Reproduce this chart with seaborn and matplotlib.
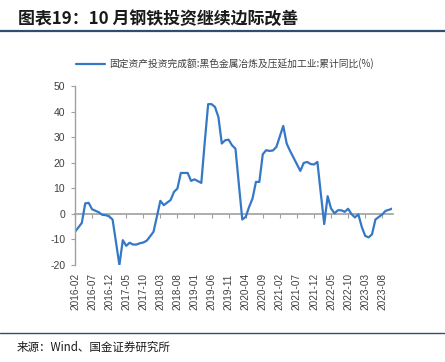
import matplotlib
matplotlib.use("Agg")
import matplotlib.pyplot as plt
import seaborn as sns
import pandas as pd
import numpy as np

# ---- data ----
months = pd.period_range("2016-02", periods=94, freq="M").strftime("%Y-%m").tolist()
values = [
    -7.0, -5.3, -3.5, 4.1, 4.3, 1.8, 1.2, 0.6, -0.4, -0.5,
    -1.0, -2.2, -11.0, -20.0, -10.3, -12.5, -11.3, -12.0, -12.0, -11.5,
    -11.2, -10.5, -8.8, -7.0, -1.0, 5.1, 3.4, 4.4, 5.4, 8.6,
    9.9, 16.0, 16.0, 16.0, 12.9, 13.5, 12.8, 12.1, 28.0, 42.9,
    42.9, 41.8, 37.9, 27.5, 28.8, 29.0, 26.8, 25.5, 11.5, -2.2,
    -1.2, 2.7, 6.0, 12.5, 12.5, 23.3, 24.9, 24.6, 24.8, 26.2,
    30.3, 34.4, 27.5, 24.6, 22.0, 19.4, 16.8, 19.9, 20.3, 19.5,
    19.3, 20.3, 8.0, -4.0, 6.9, 2.1, 0.2, 1.4, 1.4, 0.8,
    2.0, -0.1, -1.4, -0.2, -5.1, -8.6, -9.2, -8.0, -2.2, -1.2,
    -0.2, 1.2, 1.6, 2.1,
]
series_name = "固定资产投资完成额:黑色金属冶炼及压延加工业:累计同比(%)"
title_text = "图表19：10 月钢铁投资继续边际改善"
source_text = "来源：Wind、国金证券研究所"
yticks = [-20, -10, 0, 10, 20, 30, 40, 50]

df = pd.DataFrame({"idx": np.arange(len(values)), "month": months, "value": values})

sns.set_theme(style="white")
plt.rcParams["font.family"] = ["Liberation Sans", "Noto Sans CJK SC", "DejaVu Sans"]

fig = plt.figure(figsize=(4.45, 3.62), dpi=100)
ax = fig.add_axes([75 / 445, 1 - 265 / 362, (392.5 - 75) / 445, (265 - 86) / 362])

sns.lineplot(data=df, x="idx", y="value", ax=ax, color="#3578C6", linewidth=1.6,
             label=series_name, legend=False)

ax.set_xlim(0, len(values) - 1)
ax.set_ylim(-20, 50)
ax.set_yticks(yticks)
ax.set_yticklabels([str(v) for v in yticks])
ax.set_xlabel("")
ax.set_ylabel("")

tick_pos = list(range(0, len(values), 5))
ax.set_xticks(tick_pos)
ax.set_xticklabels([months[i] for i in tick_pos], rotation=90)

for s in ["top", "right", "bottom"]:
    ax.spines[s].set_visible(False)
ax.spines["left"].set_color("#A0A0A0")
ax.spines["left"].set_linewidth(1.0)

ax.tick_params(axis="y", which="both", left=True, length=3, width=0.8, color="#A0A0A0",
               labelsize=7.5, labelcolor="#404040", pad=4)
ax.tick_params(axis="x", which="both", bottom=False, length=0, labelsize=7.2,
               labelcolor="#404040", pad=6)

# zero axis with tick marks
sec = ax.secondary_xaxis(20 / 70)
sec.set_xticks(tick_pos)
sec.set_xticklabels([])
sec.spines["bottom"].set_color("#A0A0A0")
sec.spines["bottom"].set_linewidth(1.2)
sec.tick_params(axis="x", length=3, width=0.8, color="#A0A0A0", direction="out")

# legend
handles, labels = ax.get_legend_handles_labels()
leg = fig.legend(handles, labels, loc="center", bbox_to_anchor=(0.505, 1 - 64 / 362),
                 frameon=False, fontsize=7.0, handlelength=3.0, handletextpad=0.4)
for t in leg.get_texts():
    t.set_fontfamily(["Noto Sans CJK SC", "DejaVu Sans"])
    t.set_color("#404040")

# title and decorative lines
fig.text(18 / 445, 1 - 19 / 362, title_text, fontsize=12.2, fontweight="bold",
         color="#1A1A1A", ha="left", va="center", style="italic",
         family=["Noto Sans CJK SC", "DejaVu Sans"])
fig.add_artist(plt.Line2D([0, 1], [1 - 31 / 362] * 2, color="#2E5070", linewidth=1.6,
                          transform=fig.transFigure))
fig.add_artist(plt.Line2D([0, 1], [1 - 333 / 362] * 2, color="#2E5070", linewidth=1.0,
                          transform=fig.transFigure))
fig.text(17 / 445, 1 - 347 / 362, source_text, fontsize=8.3, color="#1A1A1A",
         ha="left", va="center", family=["Noto Sans CJK SC", "DejaVu Sans"])

fig.savefig("out.png", dpi=100)
